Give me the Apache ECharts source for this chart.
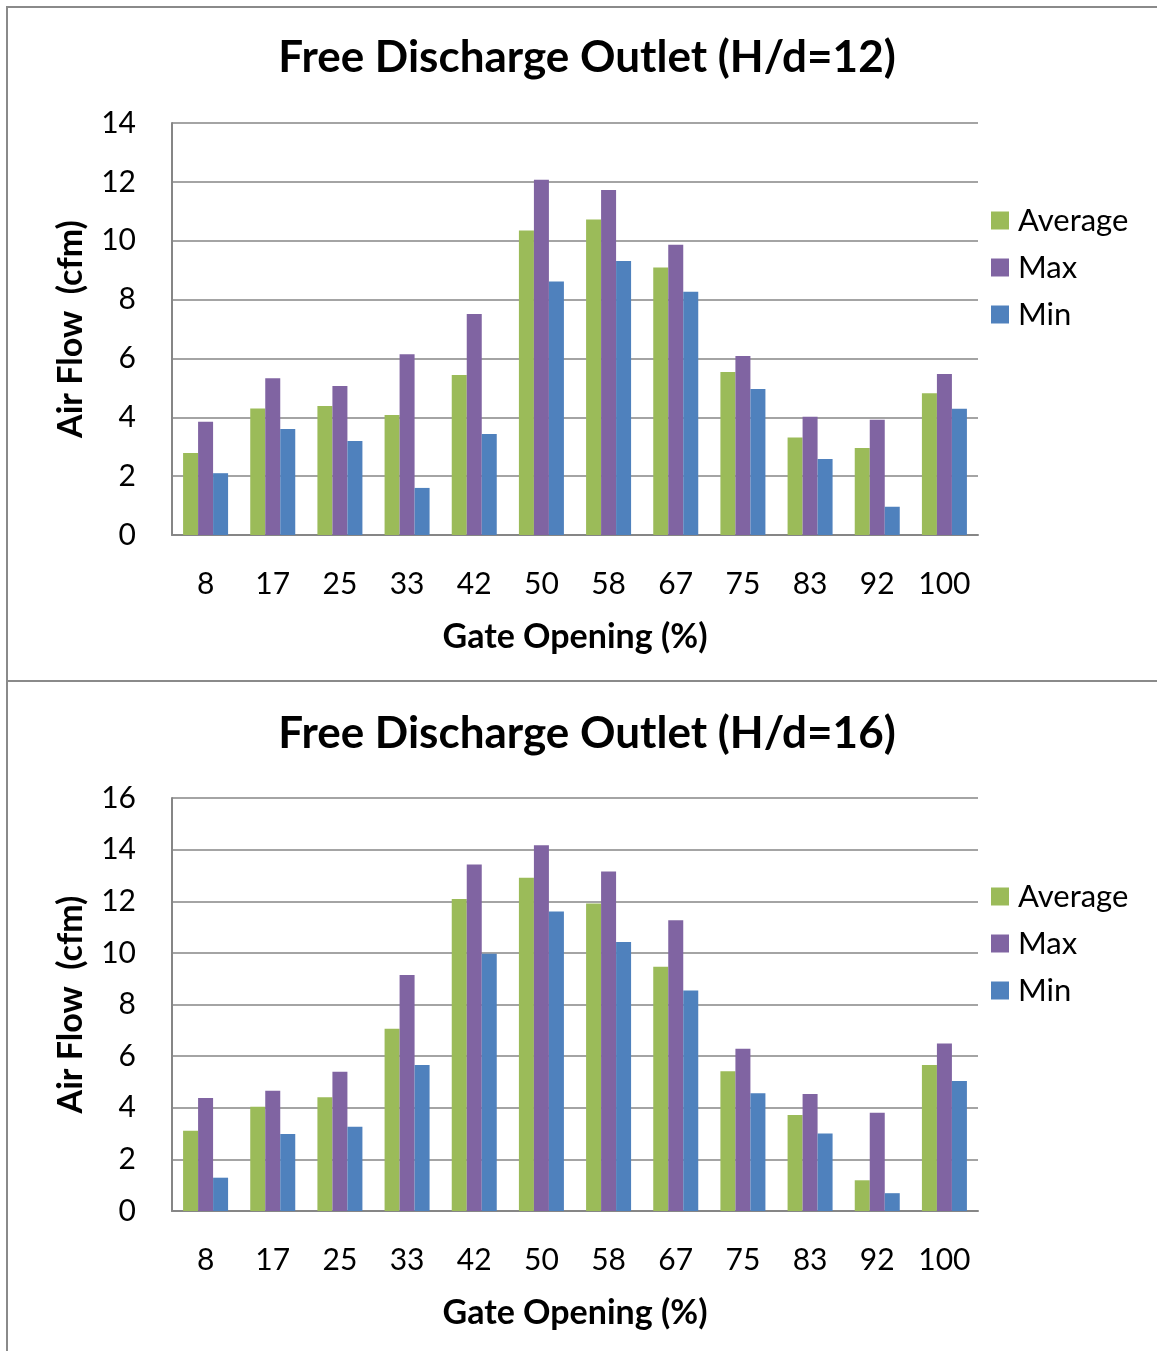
<!DOCTYPE html>
<html>
<head>
<meta charset="utf-8">
<script src="https://cdn.jsdelivr.net/npm/echarts@6/dist/echarts.min.js"></script>
<style>
  html, body { margin: 0; padding: 0; background: #fff; }
  #wrap { position: relative; width: 1157px; height: 1351px; overflow: hidden; }
  #chart { position: absolute; left: 0; top: 0; width: 1157px; height: 1351px; }
  .panel { position: absolute; border: 2px solid #8a8a8a; box-sizing: border-box; pointer-events: none; }
</style>
</head>
<body>
<div id="wrap">
  <div id="chart"></div>
  <div class="panel" style="left:6px; top:6px; width:1200px; height:676px;"></div>
  <div class="panel" style="left:6px; top:680px; width:1200px; height:720px;"></div>
</div>
<script>
const categories = ['8', '17', '25', '33', '42', '50', '58', '67', '75', '83', '92', '100'];
const seriesNames = ['Average', 'Max', 'Min'];

// Chart 1: Free Discharge Outlet (H/d=12)
const avg12 = [2.79, 4.30, 4.38, 4.08, 5.44, 10.35, 10.72, 9.09, 5.54, 3.31, 2.96, 4.82];
const max12 = [3.85, 5.33, 5.06, 6.14, 7.51, 12.07, 11.72, 9.86, 6.08, 4.02, 3.92, 5.47];
const min12 = [2.10, 3.60, 3.19, 1.60, 3.43, 8.61, 9.31, 8.27, 4.96, 2.58, 0.96, 4.29];

// Chart 2: Free Discharge Outlet (H/d=16)
const avg16 = [3.11, 4.04, 4.41, 7.06, 12.09, 12.91, 11.91, 9.46, 5.41, 3.72, 1.19, 5.66];
const max16 = [4.38, 4.66, 5.39, 9.14, 13.42, 14.17, 13.15, 11.26, 6.29, 4.53, 3.81, 6.49];
const min16 = [1.29, 2.98, 3.26, 5.66, 9.97, 11.60, 10.42, 8.54, 4.56, 3.00, 0.69, 5.04];

const titles = ['Free Discharge Outlet (H/d=12)', 'Free Discharge Outlet (H/d=16)'];
const xName = 'Gate Opening (%)';
const yName = 'Air Flow  (cfm)';
const yMax = [14, 16];

const colors = ['#9BBB59', '#8064A2', '#4F81BD'];
const FONT = 'Lato, "Open Sans", sans-serif';

const grids = [
  { left: 172, width: 806, top: 123, height: 412 },
  { left: 172, width: 806, top: 798, height: 413 }
];

const chart = echarts.init(document.getElementById('chart'), null, { renderer: 'canvas' });

const dataSets = [[avg12, max12, min12], [avg16, max16, min16]];

const legendCfg = (top) => ({
  orient: 'vertical', left: 986, top: top, itemWidth: 18, itemHeight: 18, itemGap: 16,
  icon: 'rect', data: seriesNames, itemStyle: { borderWidth: 0 },
  textStyle: { fontFamily: FONT, fontSize: 31, color: '#000', padding: [0, 0, 0, 4] }
});

const option = {
  animation: false,
  backgroundColor: '#ffffff',
  color: colors,
  title: [
    { text: titles[0], left: 582, top: 31, textAlign: 'center',
      textStyle: { fontFamily: FONT, fontWeight: 'bold', fontSize: 44, color: '#000' } },
    { text: titles[1], left: 582, top: 707, textAlign: 'center',
      textStyle: { fontFamily: FONT, fontWeight: 'bold', fontSize: 44, color: '#000' } }
  ],
  legend: [legendCfg(200), legendCfg(876)],
  grid: grids,
  xAxis: grids.map((g, i) => ({
    type: 'category', gridIndex: i, data: categories,
    name: xName, nameLocation: 'middle', nameGap: 85,
    nameTextStyle: { fontFamily: FONT, fontWeight: 'bold', fontSize: 34, color: '#000' },
    axisLine: { lineStyle: { color: '#868686', width: 2 } },
    axisTick: { show: false },
    axisLabel: { interval: 0, fontFamily: FONT, fontSize: 30, color: '#000', margin: 34 }
  })),
  yAxis: grids.map((g, i) => ({
    type: 'value', gridIndex: i, min: 0, max: yMax[i], interval: 2,
    name: yName, nameLocation: 'middle', nameGap: 84, nameRotate: 90,
    nameTextStyle: { fontFamily: FONT, fontWeight: 'bold', fontSize: 34, color: '#000' },
    axisLine: { show: true, lineStyle: { color: '#868686', width: 2 } },
    axisTick: { show: false },
    splitLine: { lineStyle: { color: '#868686', width: 1.5 } },
    axisLabel: { fontFamily: FONT, fontSize: 30, color: '#000', margin: 36 }
  })),
  series: []
};

dataSets.forEach((set, gi) => {
  set.forEach((vals, si) => {
    option.series.push({
      name: seriesNames[si], type: 'bar', xAxisIndex: gi, yAxisIndex: gi,
      data: vals, barGap: '0%', barCategoryGap: '33%',
      itemStyle: { color: colors[si] }
    });
  });
});

chart.setOption(option);
</script>
</body>
</html>
